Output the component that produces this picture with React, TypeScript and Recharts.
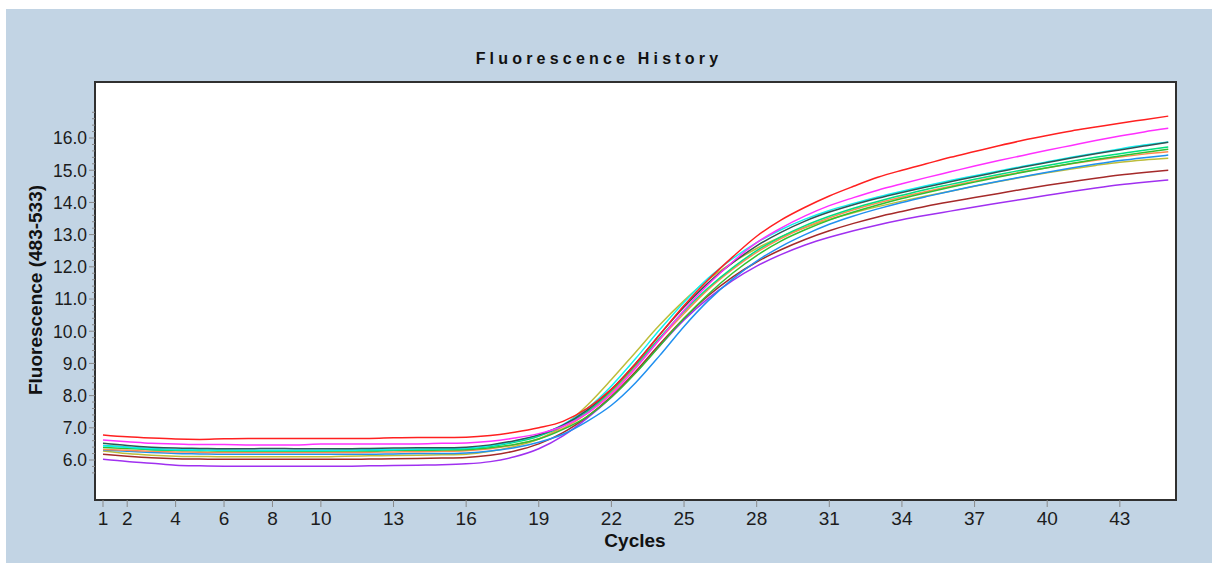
import { LineChart, Line, XAxis, YAxis } from "recharts";

// qPCR amplification curves, one array per well
const cycles = [
  1, 2, 3, 4, 5, 6, 7, 8, 9, 10, 11, 12, 13, 14, 15, 16, 17, 18, 19, 20, 21, 22, 23,
  24, 25, 26, 27, 28, 29, 30, 31, 32, 33, 34, 35, 36, 37, 38, 39, 40, 41, 42, 43, 44, 45,
];

const red = [
  6.78, 6.72, 6.68, 6.65, 6.64, 6.66, 6.67, 6.67, 6.67, 6.67, 6.67, 6.67, 6.69, 6.7, 6.7,
  6.71, 6.76, 6.86, 7.0, 7.2, 7.6, 8.2, 9.0, 9.9, 10.8, 11.6, 12.3, 12.95, 13.45, 13.85,
  14.2, 14.5, 14.78, 15.0, 15.2, 15.4, 15.58, 15.76, 15.93, 16.08, 16.22, 16.34, 16.46,
  16.57, 16.68,
];
const magenta = [
  6.62, 6.57, 6.52, 6.5, 6.48, 6.48, 6.47, 6.47, 6.47, 6.5, 6.5, 6.5, 6.5, 6.5, 6.52, 6.53,
  6.58, 6.68, 6.82, 7.05, 7.45, 8.05, 8.85, 9.75, 10.65, 11.45, 12.15, 12.75, 13.2, 13.58,
  13.9, 14.15, 14.38, 14.58, 14.77, 14.95, 15.13, 15.3, 15.46, 15.62, 15.77, 15.92, 16.06,
  16.19, 16.3,
];
const cyan = [
  6.44, 6.4, 6.36, 6.33, 6.31, 6.3, 6.3, 6.3, 6.3, 6.3, 6.3, 6.32, 6.33, 6.34, 6.35, 6.37,
  6.45, 6.58, 6.78, 7.1, 7.6, 8.3, 9.15, 10.05, 10.9, 11.65, 12.25, 12.75, 13.15, 13.48,
  13.75, 13.97, 14.17, 14.35, 14.52, 14.68, 14.83, 14.98, 15.12, 15.26, 15.4, 15.53, 15.66,
  15.78, 15.88,
];
const teal = [
  6.52, 6.45, 6.4, 6.37, 6.36, 6.35, 6.35, 6.36, 6.35, 6.35, 6.35, 6.36, 6.37, 6.38, 6.38,
  6.4, 6.47, 6.6, 6.78, 7.08, 7.55, 8.2, 9.0, 9.9, 10.75, 11.5, 12.12, 12.65, 13.07, 13.42,
  13.7, 13.93, 14.13, 14.31, 14.48, 14.64, 14.8, 14.95, 15.1, 15.24, 15.38, 15.51, 15.63,
  15.75, 15.87,
];
const spring = [
  6.45, 6.4, 6.32, 6.3, 6.3, 6.3, 6.29, 6.29, 6.29, 6.29, 6.3, 6.3, 6.31, 6.32, 6.33, 6.35,
  6.42, 6.55, 6.74, 7.05, 7.5, 8.15, 8.95, 9.8, 10.62, 11.35, 11.97, 12.5, 12.93, 13.28,
  13.57, 13.82, 14.03, 14.22, 14.4, 14.56, 14.72, 14.87, 15.01, 15.15, 15.28, 15.4, 15.51,
  15.62, 15.72,
];
const green = [
  6.39, 6.36, 6.33, 6.3, 6.29, 6.28, 6.28, 6.28, 6.28, 6.28, 6.28, 6.28, 6.3, 6.3, 6.31,
  6.32, 6.38, 6.48, 6.65, 6.95, 7.35, 7.95, 8.7, 9.55, 10.4, 11.15, 11.8, 12.35, 12.8, 13.15,
  13.45, 13.7, 13.92, 14.12, 14.3, 14.47, 14.63, 14.79, 14.94, 15.08, 15.21, 15.33, 15.44,
  15.55, 15.65,
];
const orange = [
  6.33, 6.3, 6.27, 6.25, 6.24, 6.23, 6.23, 6.23, 6.23, 6.23, 6.23, 6.24, 6.25, 6.26, 6.27,
  6.29, 6.35, 6.47, 6.66, 6.98, 7.45, 8.1, 8.9, 9.75, 10.55, 11.3, 11.92, 12.45, 12.88,
  13.23, 13.52, 13.77, 13.98, 14.17, 14.34, 14.5, 14.66, 14.81, 14.95, 15.08, 15.2, 15.31,
  15.41, 15.5, 15.57,
];
const blue = [
  6.31, 6.27, 6.23, 6.2, 6.19, 6.18, 6.18, 6.18, 6.18, 6.18, 6.18, 6.18, 6.19, 6.2, 6.2,
  6.22, 6.28, 6.38, 6.55, 6.8, 7.2, 7.7, 8.4, 9.25, 10.15, 10.95, 11.62, 12.18, 12.63, 13.0,
  13.32, 13.58, 13.8, 14.0, 14.18, 14.35, 14.51, 14.66, 14.8, 14.94, 15.07, 15.19, 15.3,
  15.39, 15.47,
];
const olive = [
  6.28, 6.2, 6.15, 6.12, 6.11, 6.1, 6.1, 6.1, 6.1, 6.1, 6.12, 6.13, 6.14, 6.15, 6.16, 6.18,
  6.27, 6.42, 6.65, 7.05, 7.7, 8.5, 9.35, 10.2, 10.95, 11.6, 12.13, 12.57, 12.93, 13.22,
  13.47, 13.68, 13.87, 14.04, 14.2, 14.35, 14.5, 14.65, 14.79, 14.92, 15.04, 15.15, 15.25,
  15.32, 15.37,
];
const brown = [
  6.18, 6.12, 6.07, 6.04, 6.03, 6.02, 6.02, 6.02, 6.02, 6.02, 6.02, 6.03, 6.04, 6.05, 6.06,
  6.08, 6.15, 6.28, 6.5, 6.85, 7.35, 7.98, 8.75, 9.6, 10.4, 11.1, 11.68, 12.15, 12.53,
  12.85, 13.12, 13.35, 13.55, 13.72, 13.88, 14.02, 14.15, 14.28, 14.41, 14.53, 14.64,
  14.75, 14.85, 14.93, 15.0,
];
const purple = [
  6.02, 5.95, 5.9, 5.84, 5.82, 5.81, 5.81, 5.81, 5.81, 5.81, 5.81, 5.82, 5.83, 5.84, 5.85,
  5.88, 5.95, 6.1, 6.35, 6.75, 7.3, 7.95, 8.72, 9.55, 10.35, 11.02, 11.57, 12.02, 12.38,
  12.68, 12.92, 13.12, 13.3, 13.46, 13.6, 13.73, 13.86, 13.98, 14.1, 14.22, 14.34, 14.45,
  14.55, 14.63, 14.7,
];

const seriesList = [
  { key: "purple", values: purple, color: "#A030F0" },
  { key: "brown", values: brown, color: "#A52A2A" },
  { key: "olive", values: olive, color: "#BDBD3A" },
  { key: "blue", values: blue, color: "#2090F0" },
  { key: "orange", values: orange, color: "#FF8A50" },
  { key: "green", values: green, color: "#30C030" },
  { key: "spring", values: spring, color: "#00E080" },
  { key: "cyan", values: cyan, color: "#10F0F0" },
  { key: "teal", values: teal, color: "#2F5656" },
  { key: "magenta", values: magenta, color: "#FF30FF" },
  { key: "red", values: red, color: "#FF2020" },
];

const xTicks = [1, 2, 4, 6, 8, 10, 13, 16, 19, 22, 25, 28, 31, 34, 37, 40, 43];
// minor ticks every 0.2, labels on whole numbers 6..16
const yTicks = Array.from({ length: 57 }, (_, i) => Math.round((5.6 + i * 0.2) * 10) / 10);

const data = cycles.map((c, i) => {
  const row: Record<string, number> = { cycle: c };
  seriesList.forEach((s) => (row[s.key] = s.values[i]));
  return row;
});

const FONT = "'Liberation Sans', Arial, sans-serif";

function XTick(props: any) {
  const { x, y, payload } = props;
  return (
    <g>
      <line x1={x} x2={x} y1={y} y2={y + 7} stroke="#8a8a8a" />
      <text x={x} y={y + 25} textAnchor="middle" fontSize={19} fontFamily={FONT} fill="#1c1c1c">
        {payload.value}
      </text>
    </g>
  );
}

function YTick(props: any) {
  const { x, y, payload } = props;
  const v: number = payload.value;
  const major = Math.abs(v - Math.round(v)) < 1e-6 && v >= 6 && v <= 16;
  return (
    <g>
      <line x1={x - (major ? 6 : 3)} x2={x} y1={y} y2={y} stroke="#8a8a8a" />
      {major && (
        <text x={x - 8} y={y} dy="0.36em" textAnchor="end" fontSize={17.5} fontFamily={FONT} fill="#1c1c1c">
          {v.toFixed(1)}
        </text>
      )}
    </g>
  );
}

export default function App() {
  return (
    <div style={{ position: "absolute", left: 0, top: 0, width: 1212, height: 563 }}>
      <div style={{ position: "absolute", left: 6, top: 9, width: 1206, height: 554, background: "#C2D4E4" }} />
      <div
        style={{
          position: "absolute",
          left: 94,
          top: 81,
          width: 1083,
          height: 420,
          boxSizing: "border-box",
          background: "#fff",
          border: "2px solid #303030",
        }}
      />
      <div style={{ position: "absolute", left: 6, top: 9 }}>
        <LineChart width={1206} height={554} data={data} margin={{ top: 73, right: 36, left: 0, bottom: 0 }}>
          <XAxis
            dataKey="cycle"
            type="number"
            domain={[0.67, 45.32]}
            allowDataOverflow
            ticks={xTicks}
            interval={0}
            height={63}
            axisLine={false}
            tickLine={false}
            tickSize={0}
            tickMargin={0}
            tick={<XTick />}
          />
          <YAxis
            type="number"
            domain={[4.758, 17.74]}
            allowDataOverflow
            ticks={yTicks}
            interval={0}
            width={89}
            axisLine={false}
            tickLine={false}
            tickSize={0}
            tickMargin={0}
            tick={<YTick />}
          />
          {seriesList.map((s) => (
            <Line
              key={s.key}
              dataKey={s.key}
              type="monotone"
              stroke={s.color}
              strokeWidth={1.5}
              dot={false}
              isAnimationActive={false}
            />
          ))}
        </LineChart>
      </div>
      <svg width={1212} height={563} style={{ position: "absolute", left: 0, top: 0, pointerEvents: "none" }}>
        <text x={599} y={63.5} textAnchor="middle" fontSize={16} fontWeight="bold" fontFamily={FONT} letterSpacing={4.2} fill="#111">
          Fluorescence History
        </text>
        <text
          x={0}
          y={0}
          transform="translate(42 290) rotate(-90)"
          textAnchor="middle"
          fontSize={19}
          fontWeight="bold"
          fontFamily={FONT}
          fill="#111"
        >
          Fluorescence (483-533)
        </text>
        <text x={635} y={547} textAnchor="middle" fontSize={19} fontWeight="bold" fontFamily={FONT} fill="#111">
          Cycles
        </text>
      </svg>
    </div>
  );
}
